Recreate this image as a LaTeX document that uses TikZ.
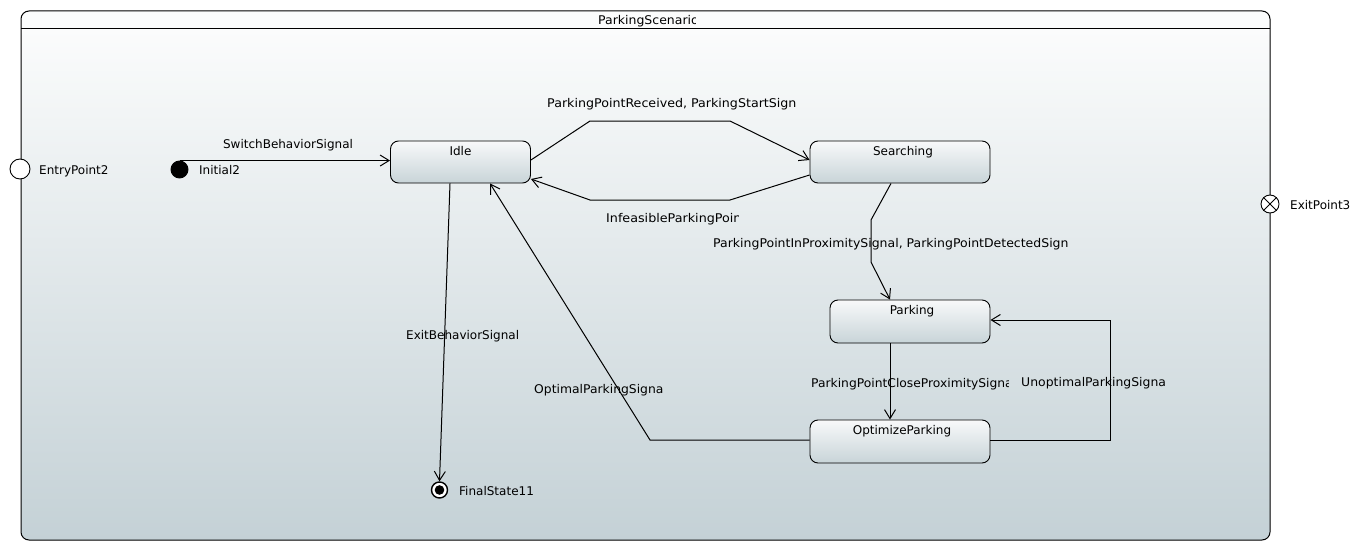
\documentclass[tikz,border=0pt]{standalone}
\usepackage{fontspec}
\setmainfont{DejaVu Sans}
\usetikzlibrary{arrows.meta}

\definecolor{regtop}{HTML}{FBFCFC}
\definecolor{regbot}{HTML}{C4D1D6}
\definecolor{sttop}{HTML}{F8F9FA}
\definecolor{stbot}{HTML}{C8D4D8}

\tikzset{
  lbl/.style={font=\fontsize{12}{14}\selectfont, inner sep=0pt, text height=9pt, text depth=2.5pt, yshift=-1.5pt},
  statebox/.style={draw=black, line width=0.9pt, rounded corners=8pt,
    top color=sttop, bottom color=stbot, inner sep=0pt},
  trans/.style={draw=black, line width=1pt,
    -{Straight Barb[length=9pt,width=11pt,line width=1pt]}},
  pseudo/.style={circle, draw=black, line width=0.9pt, inner sep=0pt},
}

% a label cut off at a given right edge, slightly widened
\newcommand{\cutlabel}[6]{%
  \begin{scope}
    \clip (#2-2,#3-12) rectangle (#4,#3+12);
    \node[lbl, anchor=west] (#1) at (#2,#3) {\scalebox{#5}[1]{#6}};
  \end{scope}}

\begin{document}
\begin{tikzpicture}[x=1pt,y=-1pt]
\useasboundingbox (0,0) rectangle (1361,551);
\fill[white] (0,0) rectangle (1361,551);

% region frame with header
\shade[top color=regtop, bottom color=regbot, rounded corners=8pt]
  (21,29) rectangle (1270,540);
\fill[regtop] (21,29) [rounded corners=8pt] -- (21,11) -- (1270,11) [sharp corners] -- (1270,29) -- cycle;
\draw[line width=1pt, rounded corners=8pt] (21,11) rectangle (1270,540);
\draw[line width=1pt] (21,29) -- (1270,29);
\cutlabel{title}{598}{19.5}{695}{1.04}{ParkingScenario}

% states
\node[statebox, minimum width=140pt, minimum height=42pt] (idle) at (460.5,162) {};
\node[lbl, anchor=north] (idlet) at ([yshift=-4.5pt]idle.north) {Idle};
\node[statebox, minimum width=180pt, minimum height=42pt] (search) at (900,162) {};
\node[lbl, anchor=north] (searcht) at ([xshift=3pt,yshift=-4.5pt]search.north) {Searching};
\node[statebox, minimum width=160pt, minimum height=43pt] (park) at (910,321.5) {};
\node[lbl, anchor=north] (parkt) at ([xshift=2pt,yshift=-4.5pt]park.north) {Parking};
\node[statebox, minimum width=180pt, minimum height=43pt] (opt) at (900,441.5) {};
\node[lbl, anchor=north] (optt) at ([xshift=2pt,yshift=-4.5pt]opt.north) {OptimizeParking};

% pseudostates
\node[pseudo, fill=white, minimum size=20pt] (entry) at (20,169) {};
\node[lbl, anchor=west] (entryt) at (39,170) {EntryPoint2};
\node[pseudo, fill=black, minimum size=17pt] (init) at (179.5,169.5) {};
\node[lbl, anchor=west] (initt) at (199,170) {Initial2};
\node[pseudo, fill=white, minimum size=18pt] (exit) at (1270,204) {};
\draw[line width=0.9pt] (exit.north west) -- (exit.south east)
  (exit.north east) -- (exit.south west);
\node[lbl, anchor=west] (exitt) at (1290,204.5) {ExitPoint3};
\node[pseudo, fill=white, line width=1.4pt, minimum size=16pt] (final) at (439.5,490) {};
\fill[black] (final.center) circle (4.8pt);
\node[lbl, anchor=west] (finalt) at (459,490.5) {FinalState11};

% transitions
\draw[trans] (init.north) -- (idle.west |- init.north);
\node[lbl] (l1) at (288,144) {SwitchBehaviorSignal};

\coordinate (a1) at (590,121);
\coordinate (a2) at (730,121);
\draw[trans] (idle.east |- 0,160) -- (a1) -- (a2) -- (search.west |- 0,160);
\cutlabel{l2}{547}{103}{795.5}{1.054}{ParkingPointReceived, ParkingStartSignal}

\coordinate (b1) at (730,200);
\coordinate (b2) at (590,200);
\draw[trans] (search.west |- 0,175) -- (b1) -- (b2) -- (idle.east |- 0,179);
\cutlabel{l3}{606}{218}{738}{1.06}{InfeasibleParkingPoint}

\coordinate (c1) at (871,220);
\coordinate (c2) at (871,262);
\draw[trans] (search.south -| 891,0) -- (c1) -- (c2) -- (park.north -| 890,0);
\cutlabel{l4}{713}{243}{1068}{1.041}{ParkingPointInProximitySignal, ParkingPointDetectedSignal}

\draw[trans] (park.south -| 890,0) -- (opt.north -| 890,0);
\cutlabel{l5}{811}{383}{1008}{1.026}{ParkingPointCloseProximitySignal}

\coordinate (d1) at (1110,440);
\coordinate (d2) at (1110,320);
\draw[trans] (opt.east |- 0,440) -- (d1) -- (d2) -- (park.east |- 0,320);
\cutlabel{l6}{1021}{382}{1165.5}{1.036}{UnoptimalParkingSignal}

\coordinate (e1) at (650,440);
\draw[trans] (opt.west |- 0,440) -- (e1) -- (idle.south -| 490,0);
\cutlabel{l7}{534}{389}{662.5}{1.03}{OptimalParkingSignal}

\draw[trans] (idle.south -| 450,0) -- (final.north);
\node[lbl, anchor=west] (l8) at (406,335) {ExitBehaviorSignal};
\end{tikzpicture}
\end{document}
